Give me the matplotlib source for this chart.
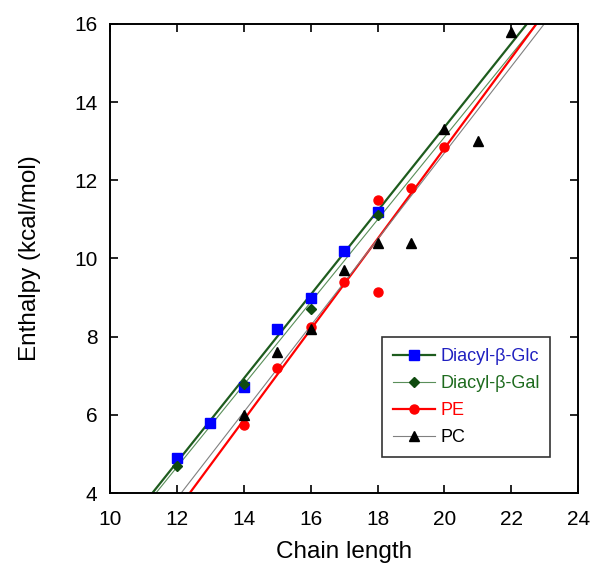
import numpy as np
import matplotlib.pyplot as plt
from matplotlib.lines import Line2D

plt.rcParams['font.family'] = ['Liberation Sans', 'DejaVu Sans']

# chain length / enthalpy (kcal/mol)
glc_x = [12, 13, 14, 15, 16, 17, 18]
glc_y = [4.9, 5.8, 6.7, 8.2, 9.0, 10.2, 11.2]

gal_x = [12, 14, 16, 18]
gal_y = [4.7, 6.8, 8.7, 11.1]

pe_x = [14, 15, 16, 17, 18, 18, 19, 20]
pe_y = [5.75, 7.2, 8.25, 9.4, 11.5, 9.13, 11.8, 12.86]

pc_x = [14, 15, 16, 17, 18, 19, 20, 21, 22]
pc_y = [6.0, 7.6, 8.2, 9.7, 10.4, 10.4, 13.3, 13.0, 15.8]

labels = ['Diacyl-\u03b2-Glc', 'Diacyl-\u03b2-Gal', 'PE', 'PC']
text_colors = ['#2020c0', '#1e6b1e', 'red', 'black']

fig = plt.figure(figsize=(5.93, 5.68), dpi=100)
ax = fig.add_axes([0.1855, 0.132, 0.7895, 0.826])

xx = np.linspace(10, 24, 200)

# linear fit line, marker, colours for each lipid
series = [
    (glc_x, glc_y, '#1e5c1e', 1.6, 's', 'blue'),
    (gal_x, gal_y, '#5a8f5a', 0.8, 'D', '#0f4a0f'),
    (pe_x, pe_y, 'red', 1.6, 'o', 'red'),
    (pc_x, pc_y, '#808080', 0.8, '^', 'black'),
]
handles = []
for x, y, lc, lw, m, mc in series:
    k, b = np.polyfit(x, y, 1)
    ax.plot(xx, k * xx + b, color=lc, lw=lw)
    ms = 5.5 if m == 'D' else 6.5
    ax.plot(x, y, linestyle='none', marker=m, color=mc, markersize=ms, zorder=3)
    handles.append(Line2D([0], [0], color=lc, lw=lw, marker=m, markerfacecolor=mc,
                          markeredgecolor=mc, markersize=ms))

ax.set_xlim(10, 24)
ax.set_ylim(4, 16)
ax.set_xticks(np.arange(10, 25, 2))
ax.set_yticks(np.arange(4, 17, 2))
ax.tick_params(direction='in', top=True, right=True, labelsize=15, length=6, width=1.2)
ax.tick_params(axis='x', pad=12)
ax.tick_params(axis='y', pad=9)
for s in ax.spines.values():
    s.set_linewidth(1.4)

ax.set_xlabel('Chain length', fontsize=17.5, labelpad=9)
ax.set_ylabel('Enthalpy (kcal/mol)', fontsize=17.5, labelpad=24)

leg = ax.legend(handles, labels, loc='lower right', bbox_to_anchor=(0.96, 0.058),
                fontsize=13, frameon=True, fancybox=False, edgecolor='black',
                handlelength=2.3, handletextpad=0.3, labelspacing=0.55, borderpad=0.6)
leg.get_frame().set_linewidth(1.2)
for t, c in zip(leg.get_texts(), text_colors):
    t.set_color(c)

fig.savefig('out.png', dpi=100)
